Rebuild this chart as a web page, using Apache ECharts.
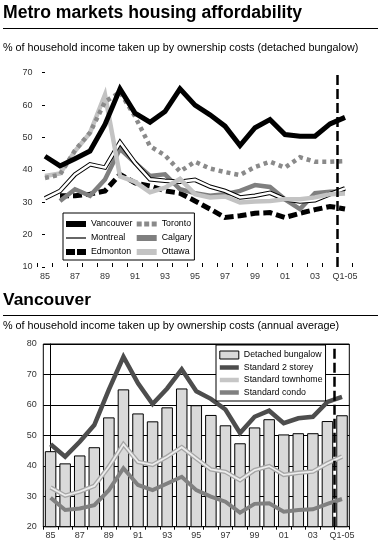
<!DOCTYPE html>
<html><head><meta charset="utf-8">
<script src="https://cdn.jsdelivr.net/npm/echarts@6/dist/echarts.min.js"></script>
<style>html,body{margin:0;padding:0;background:#fff}#c{width:388px;height:547px}</style>
</head><body><div id="c"></div>
<script>
// ---- data ----
const categories = ['85','86','87','88','89','90','91','92','93','94','95','96','97','98','99','00','01','02','03','04','Q1-05'];
// Top chart: % of household income (detached bungalow)
const vancouver = [44.2,41.2,43.4,45.8,54,65,57.5,54.7,58,65,60,57,53.5,47.5,53,55.5,50.9,50.4,50.4,54.2,56.2];
const toronto   = [37.5,38.5,46,51.5,61,64,56.5,47.3,44.5,39.5,42.5,40.4,39.3,38.4,40.9,42.5,40.7,43.9,42.5,42.5,42.7];
const montreal  = [31.2,33.5,38.6,41.7,40.7,48.5,42.2,37.1,36.6,36.3,36.9,34.8,33.5,31.5,32,32.9,30.9,30.2,30.6,32.5,34.3];
const calgary   = [null,30.4,34,32,37,46.5,42.2,38.1,38.6,34,32.8,32,32.5,33.5,35.3,34.7,30.9,27.9,32.8,33.2,33.3];
const edmonton  = [null,32,32,32.5,33.5,38.6,36,35,33.5,32.8,30.4,27.9,25.3,25.8,26.6,26.8,25.3,26.6,27.7,28.7,27.9];
const ottawa    = [38.1,38.9,45.8,51.4,63.2,38,36.3,33.1,34.5,37.2,32.5,31.5,31.8,29.9,30.2,30.4,30.9,30.9,31.5,32.5,32.7];
// Bottom chart: Vancouver, annual average
const bungalow  = [44.8,40.8,43.4,46.1,55.9,65.1,57.2,54.6,59.2,65.4,59.9,56.7,53.3,47.4,52.6,55.3,50.3,50.7,50.7,54.7,56.6];
const twoStorey = [47.1,43,47.9,53.4,65,75.8,67.1,60.3,65.4,71.7,64.5,62,58.5,50.8,56.1,58.1,54,55.6,56.1,61,62.6];
const townhome  = [32.9,30.2,31.5,33.4,39.7,47.1,41.3,40.3,43,46.1,42.4,38.8,38,35.3,38.6,39.9,37,37.7,38.1,40.8,43];
const condo     = [29.5,25.5,26,27.1,32,39.2,33.7,32,34.2,36.4,32,29.9,28.2,24.6,27.5,27.7,24.9,25.5,25.7,27.5,29.1];
// divider between annual data and Q1-05 (category boundary index)
const dividerPos = 19.5;
const topTicks = {min: 10, max: 70, interval: 10};
const botTicks = {min: 20, max: 80, interval: 10};

const FONT = '"Liberation Sans", Arial, sans-serif';
const chart = echarts.init(document.getElementById('c'), null, {renderer: 'canvas'});

function line(name, data, color, width, type, xi, yi, z) {
  return {name, type: 'line', data, xAxisIndex: xi, yAxisIndex: yi, symbol: 'none',
    connectNulls: false, z: z || 2,
    lineStyle: {color, width, type: type || 'solid', cap: 'butt', join: 'miter'},
    itemStyle: {color}, emphasis: {disabled: true}, silent: true};
}
const ICON_BAR6 = 'path://M0,0H20V6H0Z';
const ICON_THIN = 'path://M0,0H20V1.2H0Z';
const ICON_DASH = 'path://M0,0H9V6H0ZM11,0H20V6H11Z';
const ICON_DOT  = 'path://M0,0H5V5H0ZM7.5,0H12.5V5H7.5ZM15,0H20V5H15Z';
const ICON_BAR4 = 'path://M0,0H19V4.5H0Z';

const legendText = {fontFamily: FONT, fontSize: 8.8, color: '#000'};

const option = {
  animation: false,
  textStyle: {fontFamily: FONT},
  title: [
    {text: 'Metro markets housing affordability', left: 3, top: 4, padding: 0,
     textStyle: {fontFamily: FONT, fontWeight: 'bold', fontSize: 17.6, color: '#000'}},
    {text: '% of household income taken up by ownership costs (detached bungalow)', left: 3, top: 42.5, padding: 0,
     textStyle: {fontFamily: FONT, fontWeight: 'normal', fontSize: 10.8, color: '#000'}},
    {text: 'Vancouver', left: 3, top: 292, padding: 0,
     textStyle: {fontFamily: FONT, fontWeight: 'bold', fontSize: 17.4, color: '#000'}},
    {text: '% of household income taken up by ownership costs (annual average)', left: 3, top: 320.5, padding: 0,
     textStyle: {fontFamily: FONT, fontWeight: 'normal', fontSize: 10.8, color: '#000'}}
  ],
  graphic: [
    {type: 'line', shape: {x1: 3, y1: 28.5, x2: 378, y2: 28.5}, style: {stroke: '#000', lineWidth: 1}},
    {type: 'line', shape: {x1: 3, y1: 315.5, x2: 378, y2: 315.5}, style: {stroke: '#000', lineWidth: 1}}
  ],
  grid: [
    {left: 37.5, top: 72.7, width: 315, height: 194.3},
    {left: 43.3, top: 344, width: 306, height: 182.7, show: true, borderColor: '#000', borderWidth: 1, backgroundColor: 'transparent'}
  ],
  xAxis: [
    {type: 'category', gridIndex: 0, data: categories, boundaryGap: true,
     axisLine: {show: false},
     axisTick: {show: true, inside: true, length: 4, interval: 0, lineStyle: {color: '#000'}},
     axisLabel: {interval: 1, margin: 5, fontSize: 9, color: '#333', fontFamily: FONT}},
    {type: 'value', gridIndex: 0, min: -0.5, max: 20.5, show: false},
    {type: 'category', gridIndex: 1, data: categories, boundaryGap: true,
     axisLine: {show: true, lineStyle: {color: '#000'}},
     axisTick: {show: true, inside: false, length: 3, interval: 0, lineStyle: {color: '#000'}},
     axisLabel: {interval: 1, margin: 4.5, fontSize: 9, color: '#333', fontFamily: FONT}},
    {type: 'value', gridIndex: 1, min: -0.5, max: 20.5, show: false}
  ],
  yAxis: [
    {type: 'value', gridIndex: 0, min: topTicks.min, max: topTicks.max, interval: topTicks.interval,
     axisLine: {show: false}, splitLine: {show: false},
     axisTick: {show: true, length: 3, lineStyle: {color: '#000'}},
     axisLabel: {margin: 5, fontSize: 9, color: '#333', fontFamily: FONT}},
    {type: 'value', gridIndex: 1, min: botTicks.min, max: botTicks.max, interval: botTicks.interval,
     axisLine: {show: true, lineStyle: {color: '#000'}},
     splitLine: {show: true, lineStyle: {color: '#000', width: 1}},
     axisTick: {show: true, length: 4, lineStyle: {color: '#000'}},
     axisLabel: {margin: 6.5, fontSize: 9, color: '#333', fontFamily: FONT}}
  ],
  legend: [
    {data: [{name: 'Vancouver', icon: ICON_BAR6}, {name: 'Montreal', icon: ICON_THIN}, {name: 'Edmonton', icon: ICON_DASH}],
     orient: 'vertical', left: 63, top: 213, padding: [5, 62, 2, 3],
     itemWidth: 20, itemHeight: 8, itemGap: 2, itemTextGap: 4, symbolKeepAspect: true,
     backgroundColor: '#fff', borderColor: '#000', borderWidth: 1,
     itemStyle: {borderWidth: 0}, selectedMode: false,
     textStyle: Object.assign({lineHeight: 12}, legendText)},
    {data: [{name: 'Toronto', icon: ICON_DOT}, {name: 'Calgary', icon: ICON_BAR6}, {name: 'Ottawa', icon: ICON_BAR6}],
     orient: 'vertical', left: 136.7, top: 218, padding: 0,
     itemWidth: 20, itemHeight: 8, itemGap: 2, itemTextGap: 3, symbolKeepAspect: true,
     itemStyle: {borderWidth: 0}, selectedMode: false,
     textStyle: Object.assign({lineHeight: 12}, legendText)},
    {data: [{name: 'Detached bungalow', icon: 'rect', itemStyle: {borderWidth: 1, borderColor: '#000'}},
            {name: 'Standard 2 storey', icon: ICON_BAR4},
            {name: 'Standard townhome', icon: ICON_BAR4, itemStyle: {color: '#c6c6c6'}},
            {name: 'Standard condo', icon: ICON_BAR4}],
     orient: 'vertical', left: 216, top: 345, padding: [4.5, 3, 3, 3.3],
     itemWidth: 19, itemHeight: 8, itemGap: 1.5, itemTextGap: 2.4, symbolKeepAspect: true,
     backgroundColor: '#fff', borderColor: '#000', borderWidth: 1,
     itemStyle: {borderWidth: 0}, selectedMode: false, z: 10,
     textStyle: Object.assign({lineHeight: 11}, legendText)}
  ],
  series: [
    {type: 'line', name: 'div1', xAxisIndex: 1, yAxisIndex: 0, data: [], silent: true, z: 5,
     markLine: {symbol: 'none', silent: true, label: {show: false},
       lineStyle: {color: '#000', width: 2.5, type: [10, 4]}, data: [{xAxis: dividerPos}]}},
    line('Edmonton', edmonton, '#000', 5, [9, 4], 0, 0),
    line('Calgary', calgary, '#7f7f7f', 4.5, 'solid', 0, 0),
    line('Montreal', montreal, '#000', 4.5, 'solid', 0, 0),
    line('Montreal core', montreal, '#fff', 2.5, 'solid', 0, 0),
    line('Ottawa', ottawa, '#c3c3c3', 4.5, 'solid', 0, 0),
    line('Toronto', toronto, '#8a8a8a', 4.5, [4, 4], 0, 0),
    line('Vancouver', vancouver, '#000', 5, 'solid', 0, 0),
    {name: 'Detached bungalow', type: 'bar', data: bungalow, xAxisIndex: 2, yAxisIndex: 1,
     barCategoryGap: '21%', silent: true,
     itemStyle: {color: '#d9d9d9', borderColor: '#000', borderWidth: 1}},
    line('Standard condo', condo, '#808080', 4, 'solid', 2, 1, 3),
    line('Standard townhome', townhome, '#a6a6a6', 4.5, 'solid', 2, 1, 3),
    line('Standard townhome core', townhome, '#ececec', 1.8, 'solid', 2, 1, 3),
    line('Standard 2 storey', twoStorey, '#4d4d4d', 4.5, 'solid', 2, 1, 3),
    {type: 'line', name: 'div2', xAxisIndex: 3, yAxisIndex: 1, data: [], silent: true, z: 5,
     markLine: {symbol: 'none', silent: true, label: {show: false},
       lineStyle: {color: '#000', width: 2.5, type: [10, 4]}, data: [{xAxis: dividerPos}]}}
  ]
};
chart.setOption(option);
</script>
</body></html>
